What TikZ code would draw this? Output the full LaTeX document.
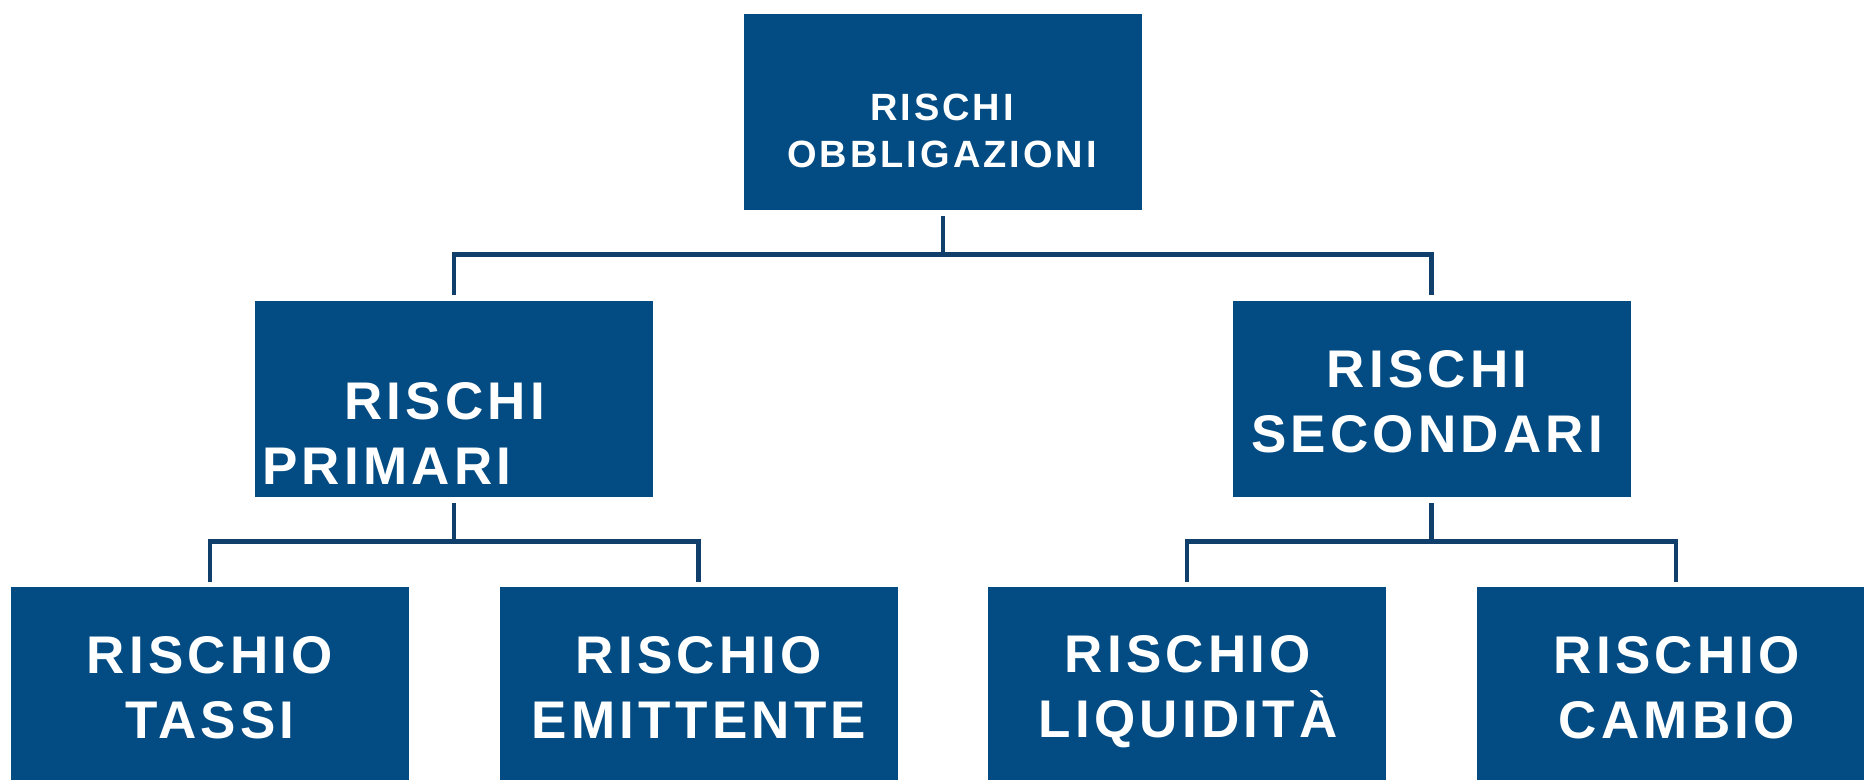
\documentclass[tikz,border=0pt]{standalone}
\usepackage{fontspec}
\usepackage{tikz}
\usetikzlibrary{positioning}
\newfontfamily\boxfont[LetterSpace=8]{Liberation Sans}
\definecolor{boxblue}{RGB}{2,75,131}
\definecolor{lineblue}{RGB}{16,63,108}
\tikzset{riskbox/.style = {fill=boxblue, draw=none, inner sep=0pt,
                           minimum width=199pt, minimum height=98pt},
         risktext/.style = {text=white, inner sep=0pt, align=center,
                            font=\boxfont\bfseries\fontsize{26.5}{32.5}\selectfont},
         toptext/.style = {risktext, font=\boxfont\bfseries\fontsize{19}{23.5}\selectfont},
         conn/.style = {draw=lineblue, line width=2.4pt}}

\begin{document}
\begin{tikzpicture}[x=0.5pt, y=-0.5pt]
      \clip (0, 0) rectangle (1864, 780);
      \node [riskbox] (topbox) at (943, 112) {};
      \node [riskbox] (prim) at (454, 399) {};
      \node [riskbox] (sec) at (1431.5, 399) {};
      \node [riskbox] (tassi) at (210, 685) {};
      \node [riskbox] (emit) at (698.5, 685) {};
      \node [riskbox] (liq) at (1187, 685) {};
      \node [riskbox] (camb) at (1676, 685) {};
      \node [toptext] (toplabel) at (942, 131) {RISCHI\\OBBLIGAZIONI};
      \node [risktext, align=left, anchor=north west] (primlabel) at (262, 382) {\hspace*{41pt}RISCHI\\PRIMARI};
      \node [risktext] (seclabel) at (1427, 401.5) {RISCHI\\SECONDARI};
      \node [risktext] (tassilabel) at (210, 687.5) {RISCHIO\\TASSI};
      \node [risktext] (emitlabel) at (699, 687.5) {RISCHIO\\EMITTENTE};
      \node [risktext] (liqlabel) at (1188, 692) {RISCHIO\\LIQUIDITÀ};
      \node [risktext] (camblabel) at (1677, 687.5) {RISCHIO\\CAMBIO};
      \draw [conn] ([yshift=-3pt]topbox.south) -- ++(0, 39);
      \draw [conn] ([yshift=3pt]prim.north) -- ++(0, -40) -| ([yshift=3pt]sec.north);
      \draw [conn] ([yshift=-3pt]prim.south) -- ++(0, 39);
      \draw [conn] ([yshift=2.5pt]tassi.north) -- ++(0, -40) -| ([yshift=2.5pt]emit.north);
      \draw [conn] ([yshift=-3pt]sec.south) -- ++(0, 39);
      \draw [conn] ([yshift=2.5pt]liq.north) -- ++(0, -40) -| ([yshift=2.5pt]camb.north);
    \end{tikzpicture}
\end{document}
